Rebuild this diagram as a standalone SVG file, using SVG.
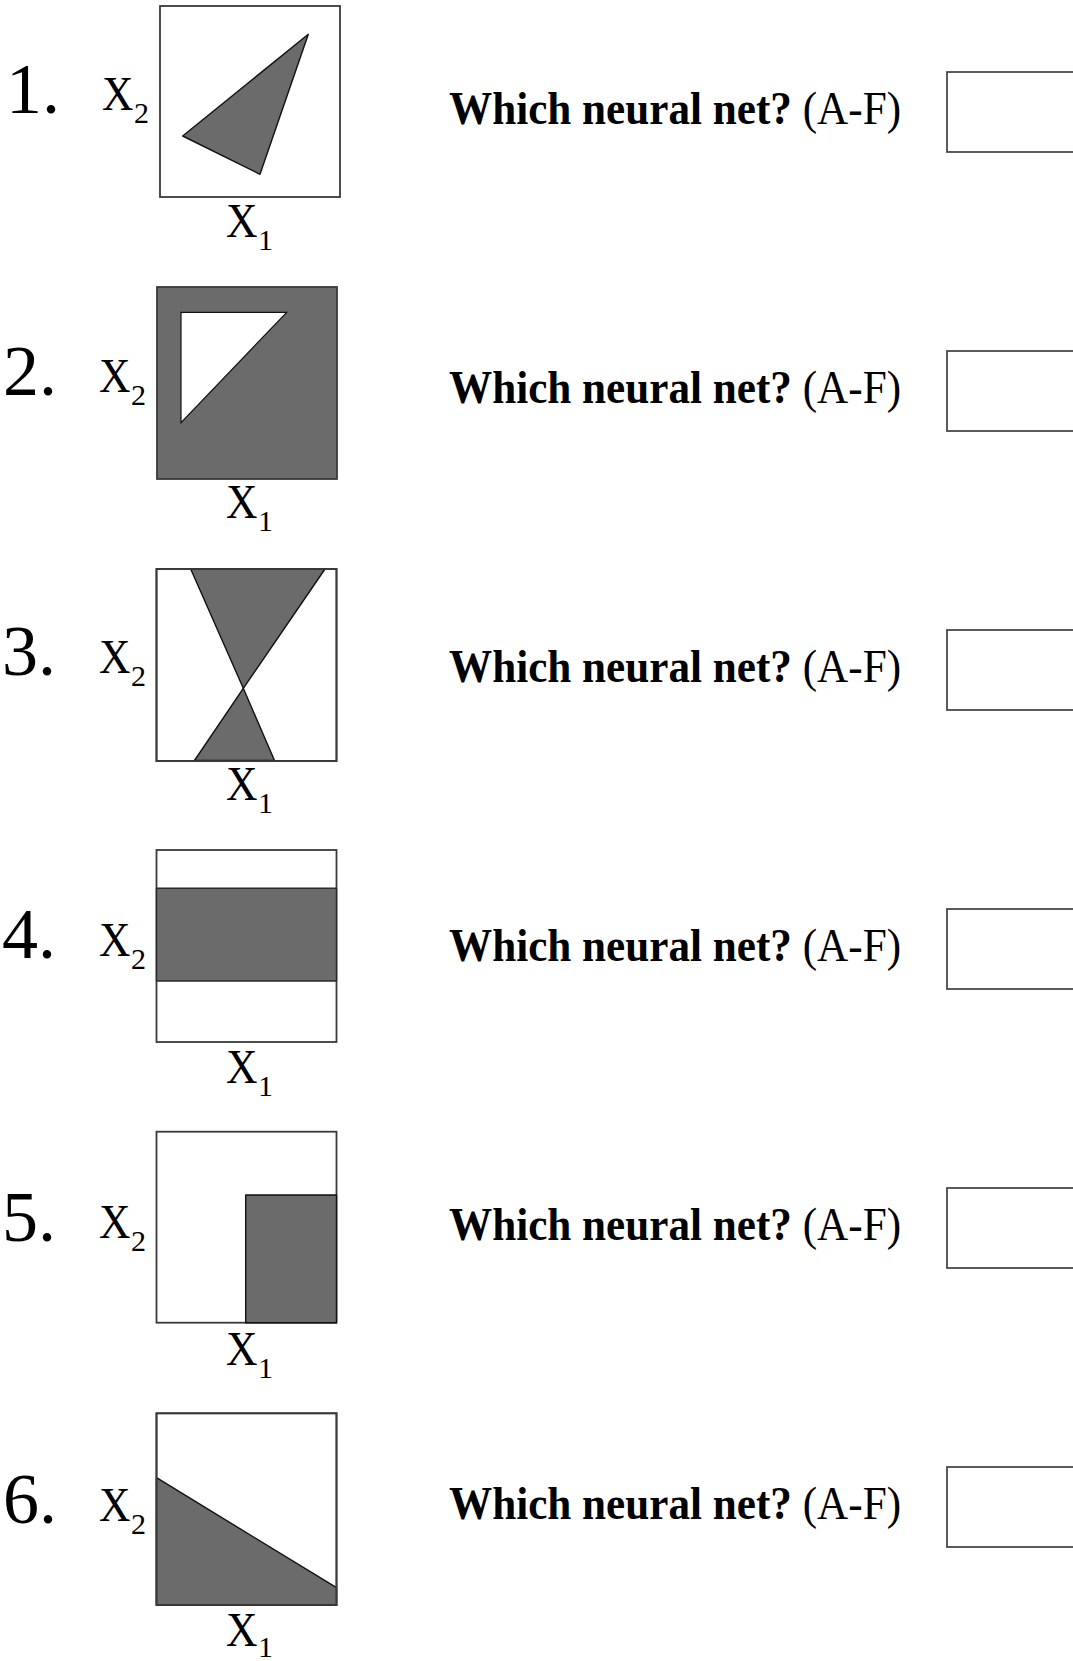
<svg xmlns="http://www.w3.org/2000/svg" width="1073" height="1661" viewBox="0 0 1073 1661">
<style>
text { font-family: "Liberation Serif", "Times New Roman", serif; fill: #000; }
.num { font-size: 72px; }
.ax { font-size: 48px; }
.sub { font-size: 30px; }
.q { font-size: 47.3px; }
.frame { fill: #fff; stroke: #3a3a3a; stroke-width: 1.8; }
.shade { fill: #6b6b6b; stroke: #111; stroke-width: 1.4; stroke-linejoin: round; }
.hole { fill: #fff; stroke: #111; stroke-width: 1.2; }
.ans { fill: #fff; stroke: #4a4a4a; stroke-width: 1.8; }
</style>
<rect width="1073" height="1661" fill="#fff"/>

<g id="row1">
  <text class="num" x="6" y="113">1.</text>
  <text class="ax" x="102" y="110" textLength="31.5" lengthAdjust="spacingAndGlyphs">X</text><text class="sub" x="134" y="123">2</text>
  <rect class="frame" x="160" y="6" width="180" height="191"/>
  <polygon class="shade" points="308.3,34.3 182.7,136 260,174.3"/>
  <text class="ax" x="226" y="237" textLength="31.5" lengthAdjust="spacingAndGlyphs">X</text><text class="sub" x="258" y="250">1</text>
  <g transform="translate(449,124) scale(0.913,1)"><text class="q" x="0" y="0"><tspan font-weight="bold">Which neural net?</tspan> (A-F)</text></g>
  <rect class="ans" x="947" y="72" width="140" height="80"/>
</g>

<g id="row2">
  <text class="num" x="3" y="395">2.</text>
  <text class="ax" x="99" y="392" textLength="31.5" lengthAdjust="spacingAndGlyphs">X</text><text class="sub" x="131" y="405">2</text>
  <rect class="frame" x="157" y="287" width="180" height="192" style="fill:#6b6b6b"/>
  <polygon class="hole" points="181,312.3 286.7,312.3 181,422.7"/>
  <text class="ax" x="226" y="518" textLength="31.5" lengthAdjust="spacingAndGlyphs">X</text><text class="sub" x="258" y="531">1</text>
  <g transform="translate(449,403) scale(0.913,1)"><text class="q" x="0" y="0"><tspan font-weight="bold">Which neural net?</tspan> (A-F)</text></g>
  <rect class="ans" x="947" y="351" width="140" height="80"/>
</g>

<g id="row3">
  <text class="num" x="2" y="675">3.</text>
  <text class="ax" x="99" y="673" textLength="31.5" lengthAdjust="spacingAndGlyphs">X</text><text class="sub" x="131" y="686">2</text>
  <rect class="frame" x="156.5" y="569" width="180" height="192"/>
  <polygon class="shade" points="190.7,569 325,569 243.3,688.3"/>
  <polygon class="shade" points="243.3,688.3 274.5,760.5 194.5,760.5"/>
  <rect x="156.5" y="569" width="180" height="192" fill="none" stroke="#3a3a3a" stroke-width="1.8"/>
  <text class="ax" x="226" y="800" textLength="31.5" lengthAdjust="spacingAndGlyphs">X</text><text class="sub" x="258" y="813">1</text>
  <g transform="translate(449,682) scale(0.913,1)"><text class="q" x="0" y="0"><tspan font-weight="bold">Which neural net?</tspan> (A-F)</text></g>
  <rect class="ans" x="947" y="630" width="140" height="80"/>
</g>

<g id="row4">
  <text class="num" x="2" y="958">4.</text>
  <text class="ax" x="99" y="956" textLength="31.5" lengthAdjust="spacingAndGlyphs">X</text><text class="sub" x="131" y="969">2</text>
  <rect class="frame" x="156.5" y="850" width="180" height="192"/>
  <rect class="shade" x="156.5" y="888.3" width="180" height="92.7" style="stroke:#2a2a2a"/>
  <text class="ax" x="226" y="1083" textLength="31.5" lengthAdjust="spacingAndGlyphs">X</text><text class="sub" x="258" y="1096">1</text>
  <g transform="translate(449,961) scale(0.913,1)"><text class="q" x="0" y="0"><tspan font-weight="bold">Which neural net?</tspan> (A-F)</text></g>
  <rect class="ans" x="947" y="909" width="140" height="80"/>
</g>

<g id="row5">
  <text class="num" x="2" y="1241">5.</text>
  <text class="ax" x="99" y="1238" textLength="31.5" lengthAdjust="spacingAndGlyphs">X</text><text class="sub" x="131" y="1251">2</text>
  <rect class="frame" x="156.5" y="1131.7" width="180" height="191"/>
  <rect class="shade" x="245.7" y="1195" width="90.8" height="127.7"/>
  <text class="ax" x="226" y="1365" textLength="31.5" lengthAdjust="spacingAndGlyphs">X</text><text class="sub" x="258" y="1378">1</text>
  <g transform="translate(449,1240) scale(0.913,1)"><text class="q" x="0" y="0"><tspan font-weight="bold">Which neural net?</tspan> (A-F)</text></g>
  <rect class="ans" x="947" y="1188" width="140" height="80"/>
</g>

<g id="row6">
  <text class="num" x="3" y="1523">6.</text>
  <text class="ax" x="99" y="1521" textLength="31.5" lengthAdjust="spacingAndGlyphs">X</text><text class="sub" x="131" y="1534">2</text>
  <rect class="frame" x="156.5" y="1413.3" width="180" height="191.7"/>
  <polygon class="shade" points="156.5,1477.7 336.5,1587.7 336.5,1605 156.5,1605"/>
  <rect x="156.5" y="1413.3" width="180" height="191.7" fill="none" stroke="#3a3a3a" stroke-width="1.8"/>
  <text class="ax" x="226" y="1646" textLength="31.5" lengthAdjust="spacingAndGlyphs">X</text><text class="sub" x="258" y="1657">1</text>
  <g transform="translate(449,1519) scale(0.913,1)"><text class="q" x="0" y="0"><tspan font-weight="bold">Which neural net?</tspan> (A-F)</text></g>
  <rect class="ans" x="947" y="1467" width="140" height="80"/>
</g>

<g id="connectors"></g>
</svg>
